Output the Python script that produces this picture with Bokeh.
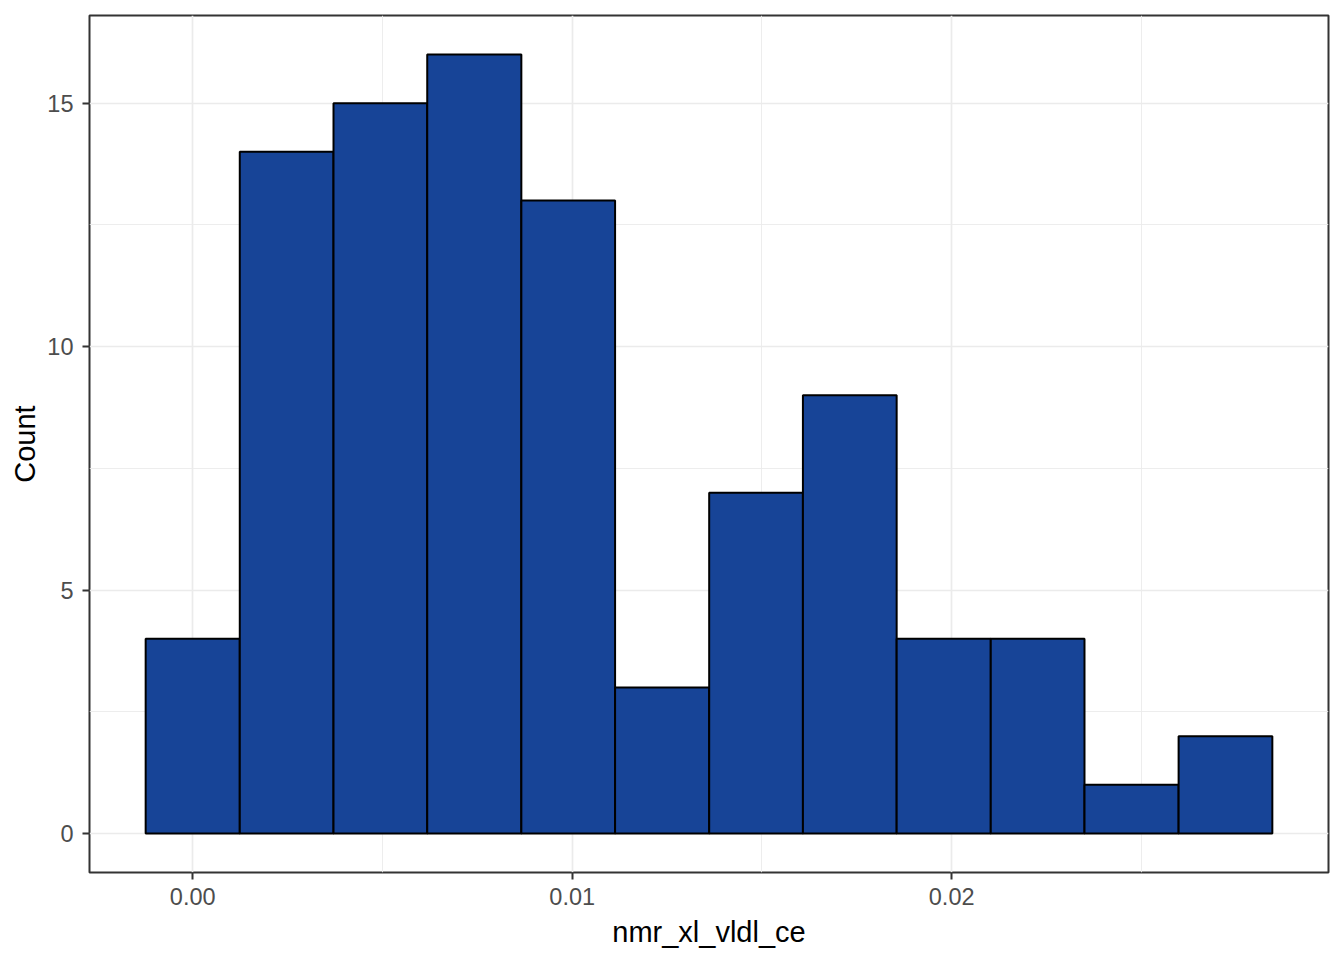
from bokeh.plotting import figure
from bokeh.models import Range1d, FixedTicker, ColumnDataSource
from bokeh.embed import file_html
from bokeh.resources import INLINE

# Histogram data
bin_left = [-0.00124, 0.00124, 0.00371, 0.00618, 0.00866, 0.01113,
            0.01361, 0.01608, 0.01855, 0.02103, 0.02350, 0.02598]
bin_right = [0.00124, 0.00371, 0.00618, 0.00866, 0.01113, 0.01361,
             0.01608, 0.01855, 0.02103, 0.02350, 0.02598, 0.02845]
counts = [4, 14, 15, 16, 13, 3, 7, 9, 4, 4, 1, 2]

x_ticks = [0.0, 0.01, 0.02]
x_tick_labels = {0.0: "0.00", 0.01: "0.01", 0.02: "0.02"}
x_minor = [0.005, 0.015, 0.025]
y_ticks = [0, 5, 10, 15]
y_minor = [2.5, 7.5, 12.5]

x_title = "nmr_xl_vldl_ce"
y_title = "Count"

src = ColumnDataSource(dict(left=bin_left, right=bin_right, top=counts,
                            bottom=[0] * len(counts)))

p = figure(width=1344, height=960, output_backend="svg", toolbar_location=None,
           x_range=Range1d(-0.00272, 0.02993), y_range=Range1d(-0.8, 16.8),
           min_border_left=89, min_border_right=16, min_border_top=15,
           min_border_bottom=88)

p.quad(left="left", right="right", top="top", bottom="bottom", source=src,
       fill_color="#174497", line_color="black", line_width=2)

p.background_fill_color = "white"
p.border_fill_color = "white"
p.outline_line_color = "#333333"
p.outline_line_width = 2

p.xaxis.ticker = FixedTicker(ticks=x_ticks, minor_ticks=x_minor)
p.yaxis.ticker = FixedTicker(ticks=y_ticks, minor_ticks=y_minor)
p.xaxis.major_label_overrides = x_tick_labels

for ax in (p.xaxis[0], p.yaxis[0]):
    ax.axis_line_color = None
    ax.major_tick_line_color = "#333333"
    ax.major_tick_line_width = 2
    ax.major_tick_out = 7
    ax.major_tick_in = 0
    ax.minor_tick_line_color = None
    ax.major_label_text_font = "Liberation Sans"
    ax.major_label_text_font_size = "23.5px"
    ax.major_label_text_color = "#4D4D4D"
    ax.axis_label_text_font = "Liberation Sans"
    ax.axis_label_text_font_size = "29px"
    ax.axis_label_text_font_style = "normal"
    ax.axis_label_text_color = "black"

p.xaxis.axis_label = x_title
p.yaxis.axis_label = y_title
p.xaxis.major_label_standoff = 8
p.xaxis.axis_label_standoff = 8
p.yaxis.major_label_standoff = 9
p.yaxis.axis_label_standoff = 3

for g in (p.xgrid[0], p.ygrid[0]):
    g.grid_line_color = "#EBEBEB"
    g.grid_line_width = 1.7
    g.minor_grid_line_color = "#EBEBEB"
    g.minor_grid_line_width = 0.9
p.xgrid.ticker = p.xaxis[0].ticker
p.ygrid.ticker = p.yaxis[0].ticker
p.xgrid.level = "underlay"
p.ygrid.level = "underlay"

open("out.html", "w").write(file_html(p, INLINE))
